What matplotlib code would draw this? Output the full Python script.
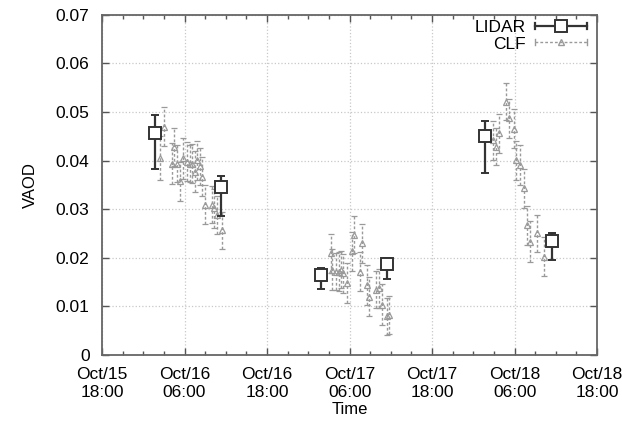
import matplotlib
matplotlib.use('Agg')
import matplotlib.pyplot as plt
import matplotlib.dates as mdates
from matplotlib.lines import Line2D
from matplotlib.legend_handler import HandlerLine2D
import pandas as pd

plt.rcParams['font.family'] = ['Liberation Sans', 'DejaVu Sans']

# LIDAR measurements (value, lower / upper error)
lidar_time = ['2011-10-16 01:42', '2011-10-16 11:18', '2011-10-17 01:48',
              '2011-10-17 11:30', '2011-10-18 01:42', '2011-10-18 11:24']
lidar_vaod = [0.0457, 0.0346, 0.0165, 0.0187, 0.0451, 0.0235]
lidar_err_lo = [0.0075, 0.0060, 0.0029, 0.0031, 0.0077, 0.0040]
lidar_err_hi = [0.0036, 0.0023, 0.0014, 0.0013, 0.0031, 0.0015]

# CLF measurements
clf_time = ['2011-10-16 02:27', '2011-10-16 03:02', '2011-10-16 04:10', '2011-10-16 04:24',
            '2011-10-16 04:53', '2011-10-16 05:22', '2011-10-16 05:51', '2011-10-16 06:21',
            '2011-10-16 06:44', '2011-10-16 07:05', '2011-10-16 07:34', '2011-10-16 07:49',
            '2011-10-16 08:17', '2011-10-16 08:32', '2011-10-16 09:01', '2011-10-16 09:59',
            '2011-10-16 10:13', '2011-10-16 10:43', '2011-10-16 11:27',
            '2011-10-17 03:14', '2011-10-17 03:29', '2011-10-17 03:58', '2011-10-17 04:27',
            '2011-10-17 04:48', '2011-10-17 05:05', '2011-10-17 05:40', '2011-10-17 06:24',
            '2011-10-17 06:38', '2011-10-17 07:31', '2011-10-17 07:52', '2011-10-17 08:35',
            '2011-10-17 08:49', '2011-10-17 09:48', '2011-10-17 10:17', '2011-10-17 10:46',
            '2011-10-17 11:30', '2011-10-17 11:44',
            '2011-10-18 02:49', '2011-10-18 03:17', '2011-10-18 03:46', '2011-10-18 04:45',
            '2011-10-18 05:14', '2011-10-18 05:52', '2011-10-18 06:12', '2011-10-18 06:50',
            '2011-10-18 07:19', '2011-10-18 07:49', '2011-10-18 08:17', '2011-10-18 09:16',
            '2011-10-18 10:14']
clf_vaod = [0.0405, 0.0470, 0.0394, 0.0428, 0.0394, 0.0357, 0.0405, 0.0398,
            0.0394, 0.0394, 0.0377, 0.0401, 0.0388, 0.0367, 0.0309, 0.0309,
            0.0302, 0.0288, 0.0257,
            0.0209, 0.0175, 0.0171, 0.0171, 0.0175, 0.0168, 0.0148, 0.0213,
            0.0247, 0.0171, 0.0230, 0.0144, 0.0120, 0.0134, 0.0137, 0.0103,
            0.0079, 0.0082,
            0.0442, 0.0429, 0.0456, 0.0521, 0.0487, 0.0466, 0.0401, 0.0391,
            0.0343, 0.0267, 0.0233, 0.0250, 0.0202]
clf_err = [0.0045, 0.0040, 0.0042, 0.0040, 0.0038, 0.0040, 0.0042, 0.0040,
           0.0038, 0.0040, 0.0042, 0.0040, 0.0038, 0.0040, 0.0040, 0.0038,
           0.0040, 0.0040, 0.0038,
           0.0040, 0.0042, 0.0038, 0.0040, 0.0038, 0.0040, 0.0042, 0.0040,
           0.0038, 0.0040, 0.0040, 0.0042, 0.0040, 0.0038, 0.0040, 0.0042,
           0.0038, 0.0040,
           0.0040, 0.0038, 0.0040, 0.0038, 0.0040, 0.0040, 0.0040, 0.0042,
           0.0040, 0.0040, 0.0042, 0.0038, 0.0040]


class CapHandler(HandlerLine2D):
    """Legend sample as a horizontal line with small end caps (gnuplot style)."""
    def create_artists(self, legend, orig_handle, xdescent, ydescent,
                       width, height, fontsize, trans):
        artists = super().create_artists(legend, orig_handle, xdescent, ydescent,
                                         width, height, fontsize, trans)
        y = height / 2 - ydescent
        for x in (-xdescent, width - xdescent):
            cap = Line2D([x, x], [y - 2.2, y + 2.2], color=orig_handle.get_color(),
                         lw=orig_handle.get_linewidth(), transform=trans)
            artists.append(cap)
        return artists


lidar_t = pd.to_datetime(lidar_time)
clf_t = pd.to_datetime(clf_time)

fig = plt.figure(figsize=(6.22, 4.26), dpi=100)
ax = fig.add_axes([0.164, 0.167, 0.796, 0.798])

clf = ax.errorbar(clf_t, clf_vaod, yerr=clf_err, fmt='^', color='#9a9a9a',
                  mfc='none', mec='#9a9a9a', ms=5, mew=0.9, elinewidth=1.0,
                  capsize=2, capthick=1.0, zorder=2)
for bar in clf[2]:
    bar.set_linestyle((0, (2, 1.5)))

ax.errorbar(lidar_t, lidar_vaod, yerr=[lidar_err_lo, lidar_err_hi], fmt='s',
            color='#333333', mfc='white', mec='#333333', ms=8.8, mew=1.4,
            elinewidth=1.6, capsize=2.6, capthick=1.6, zorder=3)

ax.set_xlim(pd.Timestamp('2011-10-15 18:00'), pd.Timestamp('2011-10-18 18:00'))
ax.set_ylim(0, 0.07)
ax.set_yticks([0, 0.01, 0.02, 0.03, 0.04, 0.05, 0.06, 0.07])
ax.set_yticklabels(['0', '0.01', '0.02', '0.03', '0.04', '0.05', '0.06', '0.07'])
ax.xaxis.set_major_locator(mdates.HourLocator(byhour=[6, 18]))
ax.xaxis.set_minor_locator(mdates.HourLocator(byhour=range(0, 24, 3)))
ax.xaxis.set_major_formatter(mdates.DateFormatter('%b/%d\n%H:%M'))
for lbl in ax.get_xticklabels():
    lbl.set_linespacing(1.25)

ax.grid(True, which='major', linestyle=':', color='#c8c8c8', linewidth=0.9)
ax.tick_params(which='both', direction='in', top=True, right=True,
               labelsize=12.5, color='#555555')
ax.tick_params(axis='x', which='major', pad=9)
ax.tick_params(axis='y', which='major', pad=9)
ax.tick_params(which='major', length=5, width=1.0)
ax.tick_params(which='minor', length=3, width=1.0)
for s in ax.spines.values():
    s.set_color('#666666')
    s.set_linewidth(1.3)

ax.set_xlabel('Time', fontsize=12, labelpad=1)
ax.set_ylabel('VAOD', fontsize=12, labelpad=13)

lidar_h = Line2D([], [], color='#333333', marker='s', mfc='white', ms=8.5, mew=1.4, lw=1.6)
clf_h = Line2D([], [], color='#9a9a9a', marker='^', mfc='none', ms=4, lw=1.0,
               linestyle=(0, (2, 1.5)))
ax.legend([lidar_h, clf_h], ['LIDAR', 'CLF'], loc='upper right',
          bbox_to_anchor=(1.012, 1.03), frameon=False, markerfirst=False,
          fontsize=12.5, handlelength=3.0, handletextpad=0.55, labelspacing=0.05,
          handler_map={Line2D: CapHandler()})

fig.savefig('out.png', dpi=100)
